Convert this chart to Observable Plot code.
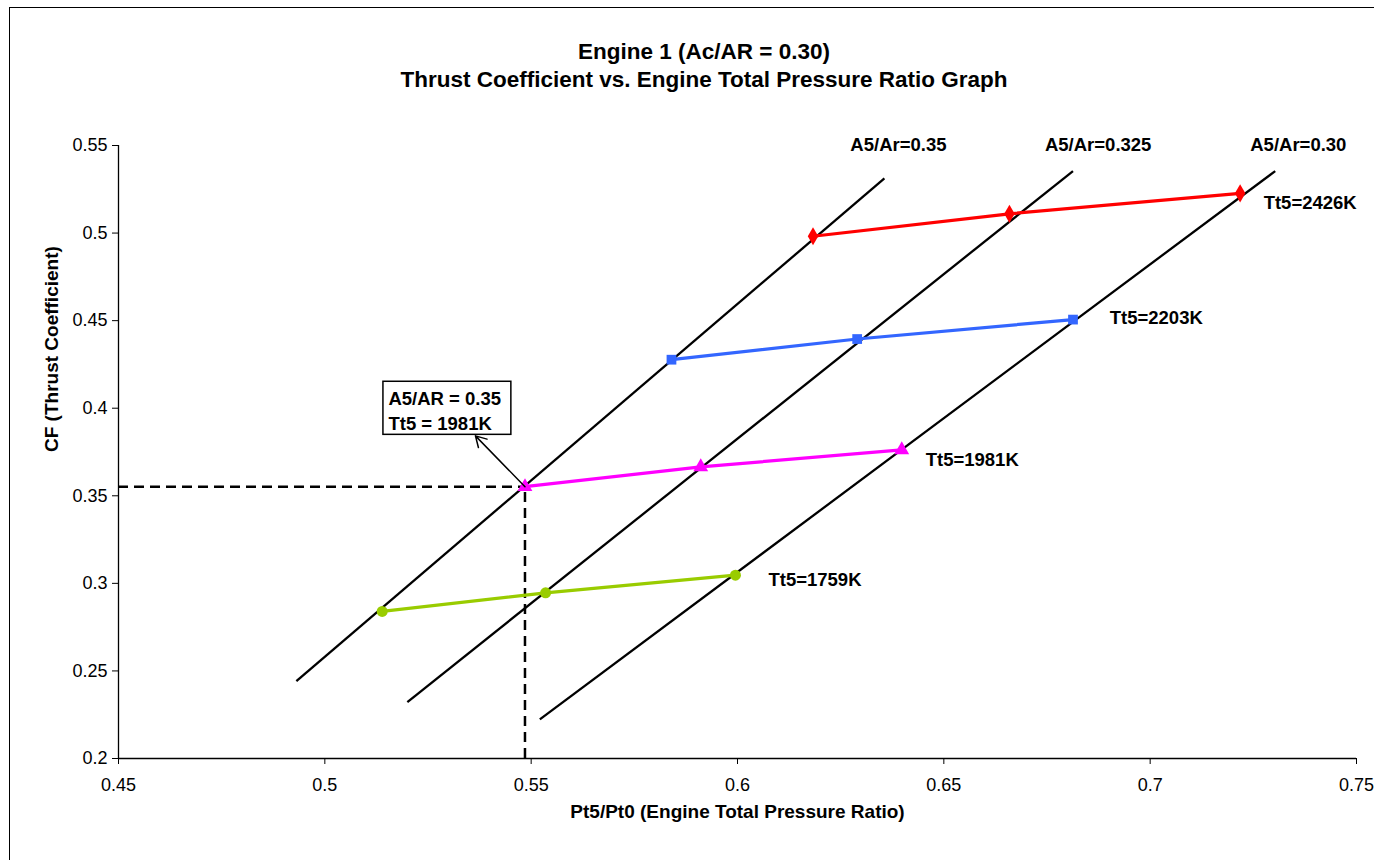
<!DOCTYPE html>
<html>
<head>
<meta charset="utf-8">
<script src="https://cdn.jsdelivr.net/npm/d3@7"></script>
<script src="https://cdn.jsdelivr.net/npm/@observablehq/plot@0.6"></script>
<style>
  body { margin: 0; background: #fff; font-family: "Liberation Sans", Arial, sans-serif; }
  #frame { position: absolute; left: 9px; top: 7px; width: 1400px; height: 900px;
           border-left: 1.5px solid #000; border-top: 1.5px solid #000; }
  .title { position: absolute; left: 704px; transform: translateX(-50%); white-space: nowrap;
           font-weight: bold; font-size: 22.5px; line-height: 28px; text-align: center; color: #000; }
  #chart { position: absolute; left: 0; top: 110px; }
</style>
</head>
<body>
<div id="frame"></div>
<div class="title" style="top:38px">Engine 1 (Ac/AR = 0.30)</div>
<div class="title" style="top:66px">Thrust Coefficient vs. Engine Total Pressure Ratio Graph</div>
<div id="chart"></div>
<script>
// ---- data ----
const xTicks = [0.45, 0.5, 0.55, 0.6, 0.65, 0.7, 0.75];
const yTicks = [0.2, 0.25, 0.3, 0.35, 0.4, 0.45, 0.5, 0.55];
const xTitle = "Pt5/Pt0 (Engine Total Pressure Ratio)";
const yTitle = "CF (Thrust Coefficient)";

// constant-temperature series
const seriesNames = ["Tt5=2426K", "Tt5=2203K", "Tt5=1981K", "Tt5=1759K"];
const seriesColors = ["#FF0000", "#3366FF", "#FF00FF", "#99CC00"];
const seriesSymbols = ["diamond", "square", "triangle", "circle"];
const pr2426 = [0.6183, 0.6659, 0.7218];
const cf2426 = [0.4982, 0.5110, 0.5227];
const pr2203 = [0.5840, 0.6290, 0.6813];
const cf2203 = [0.4277, 0.4395, 0.4506];
const pr1981 = [0.5485, 0.5911, 0.6398];
const cf1981 = [0.3552, 0.3665, 0.3762];
const pr1759 = [0.5139, 0.5535, 0.5995];
const cf1759 = [0.2840, 0.2946, 0.3047];
const seriesLabelX = [0.7275, 0.6902, 0.6456, 0.6075];
const seriesLabelY = [0.5169, 0.4517, 0.3705, 0.3018];

// constant-area lines
const areaNames = ["A5/Ar=0.35", "A5/Ar=0.325", "A5/Ar=0.30"];
const areaX1 = [0.4931, 0.5200, 0.5521];
const areaY1 = [0.2442, 0.2322, 0.2223];
const areaX2 = [0.6356, 0.6813, 0.7303];
const areaY2 = [0.5312, 0.5354, 0.5354];
const areaLabelX = [0.6390, 0.6874, 0.7359];
const areaLabelY = [0.5501, 0.5501, 0.5501];

// callout
const calloutLines = ["A5/AR = 0.35", "Tt5 = 1981K"];
const calloutBox = [0.5142, 0.5452, 0.3848, 0.4151]; // x1, x2, y1, y2
const calloutArrowEnd = [0.5365, 0.3842];

// ---- build tables ----
const prs = [pr2426, pr2203, pr1981, pr1759];
const cfs = [cf2426, cf2203, cf1981, cf1759];
const points = seriesNames.flatMap((s, i) => prs[i].map((x, j) => ({series: s, x, y: cfs[i][j]})));
const seriesLabels = seriesNames.map((s, i) => ({series: s, x: seriesLabelX[i], y: seriesLabelY[i]}));
const areaLines = areaNames.map((n, i) => ({name: n, x1: areaX1[i], y1: areaY1[i], x2: areaX2[i], y2: areaY2[i], lx: areaLabelX[i], ly: areaLabelY[i]}));
const hp = {x: pr1981[0], y: cf1981[0]}; // highlighted point

const fmt = d => String(Math.round(d * 100) / 100);

const chart = Plot.plot({
  width: 1374,
  height: 750,
  marginLeft: 118,
  marginRight: 18,
  marginTop: 35,
  marginBottom: 102,
  style: {fontFamily: "'Liberation Sans', Arial, sans-serif", fontSize: "18px", color: "#000", background: "transparent"},
  x: {domain: [0.45, 0.75]},
  y: {domain: [0.2, 0.55]},
  color: {domain: seriesNames, range: seriesColors},
  symbol: {domain: seriesNames, range: seriesSymbols},
  marks: [
    Plot.axisX({ticks: xTicks, tickFormat: fmt, tickSize: 6, tickPadding: 14, label: null, stroke: "#000", fill: "#000"}),
    Plot.axisY({ticks: yTicks, tickFormat: fmt, tickSize: 6, tickPadding: 5, label: null, stroke: "#000", fill: "#000"}),
    Plot.ruleX([0.45], {stroke: "#000", strokeWidth: 1.3}),
    Plot.ruleY([0.2], {stroke: "#000", strokeWidth: 1.3}),
    Plot.text([xTitle], {frameAnchor: "bottom", dy: 59, fontWeight: "bold", fontSize: 19}),
    Plot.text([yTitle], {frameAnchor: "left", dx: -67, rotate: -90, fontWeight: "bold", fontSize: 19}),
    // dashed guide lines to the highlighted point
    Plot.ruleY([hp], {y: "y", x1: 0.45, x2: "x", stroke: "#000", strokeWidth: 2.5, strokeDasharray: "10,6"}),
    Plot.ruleX([hp], {x: "x", y1: 0.2, y2: "y", stroke: "#000", strokeWidth: 2.5, strokeDasharray: "10,6"}),
    // constant-area lines
    Plot.link(areaLines, {x1: "x1", y1: "y1", x2: "x2", y2: "y2", stroke: "#000", strokeWidth: 2.3}),
    Plot.text(areaLines, {x: "lx", y: "ly", text: "name", fontWeight: "bold", fontSize: 18.5, textAnchor: "middle"}),
    // series
    Plot.line(points, {x: "x", y: "y", z: "series", stroke: "series", strokeWidth: 3.2}),
    Plot.dot(points, {x: "x", y: "y", fill: "series", symbol: "series", r: 5.5, stroke: "none"}),
    Plot.text(seriesLabels, {x: "x", y: "y", text: "series", textAnchor: "start", fontWeight: "bold", fontSize: 18.5}),
    // callout
    Plot.arrow([hp], {x1: "x", y1: "y", x2: () => calloutArrowEnd[0], y2: () => calloutArrowEnd[1], stroke: "#000", strokeWidth: 1.5, headLength: 12}),
    Plot.rect([0], {x1: calloutBox[0], x2: calloutBox[1], y1: calloutBox[2], y2: calloutBox[3], fill: "#fff", stroke: "#000", strokeWidth: 1.5}),
    Plot.text([calloutLines.join("\n")], {x: calloutBox[0], y: calloutBox[3], textAnchor: "start", lineAnchor: "top", dx: 5, dy: 6, lineHeight: 1.33, fontWeight: "bold", fontSize: 18.5})
  ]
});
document.getElementById("chart").appendChild(chart);
</script>
</body>
</html>
